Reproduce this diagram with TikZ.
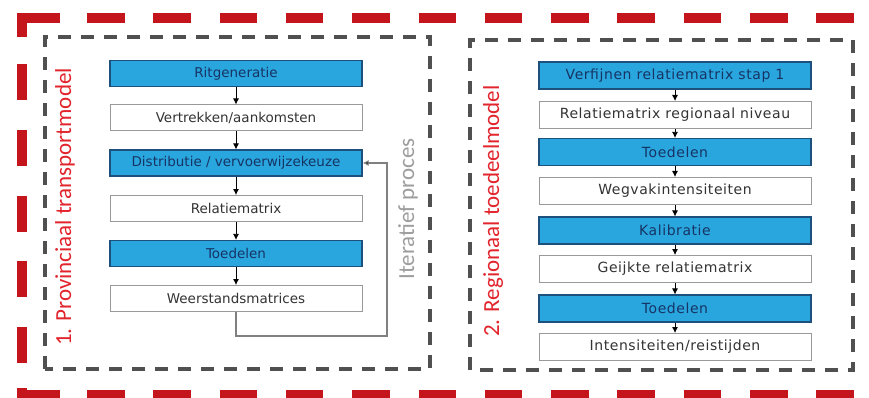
\documentclass[tikz,border=0pt]{standalone}
\usepackage{fontspec}
\usetikzlibrary{arrows.meta}
\newfontfamily\boxfont{DejaVu Sans}
\newfontfamily\labfont{Carlito}
\definecolor{frameRed}{RGB}{196,20,28}
\definecolor{labRed}{RGB}{226,36,44}
\definecolor{boxBlue}{RGB}{42,166,223}
\definecolor{boxBlueLine}{RGB}{30,80,125}
\definecolor{boxBlueText}{RGB}{22,52,100}
\definecolor{dashGrey}{RGB}{80,80,80}
\tikzset{
  redframe/.style={draw=frameRed, line width=10pt, line join=miter},
  greybox/.style={draw=dashGrey, line width=3.5pt, dash pattern=on 13pt off 10pt},
  bluebox/.style={draw=boxBlueLine, fill=boxBlue, line width=1.2pt, minimum height=26pt,
     inner sep=0pt, text=boxBlueText, font=\boxfont\fontsize{13.5}{16}\selectfont},
  whitebox/.style={draw=black!40, fill=white, line width=1pt, minimum height=26pt,
     inner sep=0pt, text=black!80, font=\boxfont\fontsize{13.5}{16}\selectfont},
  leftcol/.style={minimum width=252pt},
  rightcol/.style={minimum width=272pt, minimum height=27pt,
     font=\boxfont\fontsize{14}{16}\selectfont\addfontfeature{LetterSpace=4}},
  flow/.style={draw=black, line width=0.8pt, -{Latex[length=6pt,width=6pt]}},
  loopline/.style={draw=black!50, line width=1.1pt, -{Latex[length=6pt,width=6pt,fill=black]}},
  sidelabel/.style={rotate=90, inner sep=0pt, font=\labfont\fontsize{23}{26}\selectfont}
}
\begin{document}
\begin{tikzpicture}[x=1pt, y=-1pt]
\useasboundingbox[fill=white] (0,0) rectangle (869,398);
% red dashed frame
\draw[redframe] (22,37) -- (22,18) -- (60,18);
\foreach \k in {0,...,11} {
  \draw[redframe] ({87+\k*66.3},18) -- ({124.5+\k*66.3},18);
  \draw[redframe] ({87+\k*66.3},395) -- ({124.5+\k*66.3},395);
}
\foreach \k in {0,...,4} {
  \draw[redframe] (22,{64+\k*65.8}) -- (22,{100+\k*65.8});
}
\draw[redframe] (22,388) -- (22,395) -- (60,395);
% grey dashed boxes
\draw[greybox] (45,369) -- (45,37) -- (430,37) -- (430,369) -- cycle;
\draw[greybox] (470,370) -- (470,40) -- (853,40) -- (853,370) -- cycle;
% labels
\node[sidelabel, text=labRed] (lab1) at (65,207) {1. Provinciaal transportmodel};
\node[sidelabel, text=labRed] (lab2) at (493,211) {2. Regionaal toedeelmodel};
\node[sidelabel, text=black!38] (lab3) at (408,209) {Iteratief proces};
% left column
\node[bluebox, leftcol] (a1) at (236,73.5) {Ritgeneratie};
\node[whitebox, leftcol] (a2) at (236,118) {Vertrekken/aankomsten};
\node[bluebox, leftcol] (a3) at (236,163) {Distributie / vervoerwijzekeuze};
\node[whitebox, leftcol] (a4) at (236,208.5) {Relatiematrix};
\node[bluebox, leftcol] (a5) at (236,253.5) {Toedelen};
\node[whitebox, leftcol] (a6) at (236,298.5) {Weerstandsmatrices};
\draw[flow] (a1) -- (a2);
\draw[flow] (a2) -- (a3);
\draw[flow] (a3) -- (a4);
\draw[flow] (a4) -- (a5);
\draw[flow] (a5) -- (a6);
\coordinate (loopcorner) at (387,336);
\draw[loopline] (a6.south) |- (loopcorner) |- (a3.east);
% right column
\node[bluebox, rightcol] (b1) at (675,75.5) {Verfijnen relatiematrix stap 1};
\node[whitebox, rightcol] (b2) at (675,115) {Relatiematrix regionaal niveau};
\node[bluebox, rightcol] (b3) at (675,152) {Toedelen};
\node[whitebox, rightcol] (b4) at (675,191) {Wegvakintensiteiten};
\node[bluebox, rightcol] (b5) at (675,230.5) {Kalibratie};
\node[whitebox, rightcol] (b6) at (675,269) {Geijkte relatiematrix};
\node[bluebox, rightcol] (b7) at (675,308.5) {Toedelen};
\node[whitebox, rightcol] (b8) at (675,347) {Intensiteiten/reistijden};
\draw[flow] (b1) -- (b2);
\draw[flow] (b2) -- (b3);
\draw[flow] (b3) -- (b4);
\draw[flow] (b4) -- (b5);
\draw[flow] (b5) -- (b6);
\draw[flow] (b6) -- (b7);
\draw[flow] (b7) -- (b8);
\end{tikzpicture}
\end{document}
